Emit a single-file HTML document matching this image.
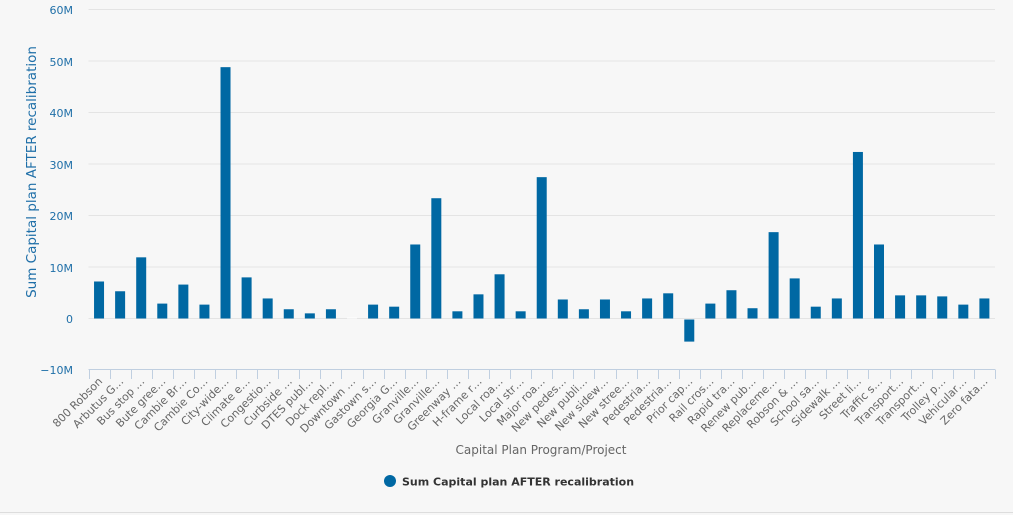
<!DOCTYPE html>
<html><head><meta charset="utf-8"><style>
html,body{margin:0;padding:0;background:#f7f7f7;}
svg{display:block;font-family:"DejaVu Sans","Liberation Sans",sans-serif;}
</style></head><body>
<svg width="1013" height="515" viewBox="0 0 1013 515" xmlns="http://www.w3.org/2000/svg">
<rect width="1013" height="515" fill="#f7f7f7"/>
<g stroke="#e4e4e4" stroke-width="1">
<line x1="88.5" x2="995" y1="9.5" y2="9.5"/>
<line x1="88.5" x2="995" y1="61" y2="61"/>
<line x1="88.5" x2="995" y1="112.5" y2="112.5"/>
<line x1="88.5" x2="995" y1="164" y2="164"/>
<line x1="88.5" x2="995" y1="215.5" y2="215.5"/>
<line x1="88.5" x2="995" y1="267" y2="267"/>
<line x1="88.5" x2="995" y1="318.5" y2="318.5"/>
</g>
<g font-size="11" fill="#1f6fa8" text-anchor="end">
<text x="73" y="14">60M</text>
<text x="73" y="66">50M</text>
<text x="73" y="117">40M</text>
<text x="73" y="169">30M</text>
<text x="73" y="220">20M</text>
<text x="73" y="272">10M</text>
<text x="73" y="323">0</text>
<text x="73" y="374">−10M</text>
</g>
<text transform="translate(36,172) rotate(-90)" font-size="13.5" fill="#1f6fa8" text-anchor="middle">Sum Capital plan AFTER recalibration</text>
<line x1="88.5" x2="995" y1="369.5" y2="369.5" stroke="#c0cfe0"/>
<g id="ticks" stroke="#c0cfe0"></g>
<g id="bars" fill="#0068a3"></g>
<g id="labels" font-size="11" fill="#666"></g>
<text x="541" y="454" font-size="12" fill="#666" text-anchor="middle">Capital Plan Program/Project</text>
<circle cx="390" cy="481" r="6" fill="#0068a3"/>
<text x="402" y="485.5" font-size="11" font-weight="bold" fill="#333">Sum Capital plan AFTER recalibration</text>
<line x1="0" x2="1013" y1="512.5" y2="512.5" stroke="#dddddd"/>
<script>
var v=[7.2,5.3,11.9,2.9,6.6,2.7,48.9,8.0,3.9,1.8,1.0,1.8,0.2,2.7,2.3,14.4,23.4,1.4,4.7,8.6,1.4,27.5,3.7,1.8,3.7,1.4,3.9,4.9,-4.3,2.9,5.5,2.0,16.8,7.8,2.3,3.9,32.4,14.4,4.5,4.5,4.3,2.7,3.9];
var l=["800 Robson","Arbutus G…","Bus stop …","Bute gree…","Cambie Br…","Cambie Co…","City-wide…","Climate e…","Congestio…","Curbside …","DTES publ…","Dock repl…","Downtown …","Gastown s…","Georgia G…","Granville…","Granville…","Greenway …","H-frame r…","Local roa…","Local str…","Major roa…","New pedes…","New publi…","New sidew…","New stree…","Pedestria…","Pedestria…","Prior cap…","Rail cros…","Rapid tra…","Renew pub…","Replaceme…","Robson & …","School sa…","Sidewalk …","Street li…","Traffic s…","Transport…","Transport…","Trolley p…","Vehicular…","Zero fata…"];
var ns="http://www.w3.org/2000/svg",s=21.08,x0=88.5,k=5.14,z=318.5;
var B=document.getElementById("bars"),T=document.getElementById("ticks"),L=document.getElementById("labels");
for(var i=0;i<=43;i++){var t=document.createElementNS(ns,"line");var tx=Math.round(x0+i*s)+0.5;t.setAttribute("x1",tx);t.setAttribute("x2",tx);t.setAttribute("y1",369.5);t.setAttribute("y2",379);T.appendChild(t);}
for(var i=0;i<43;i++){var c=x0+(i+0.5)*s;var h=v[i]*k;var r=document.createElementNS(ns,"rect");r.setAttribute("x",c-5);r.setAttribute("width",10);
if(h>=0){r.setAttribute("y",z-h);r.setAttribute("height",h);}else{r.setAttribute("y",z+1);r.setAttribute("height",-h);}
if(i==12)r.setAttribute("fill","#ffffff");B.appendChild(r);
var tx=document.createElementNS(ns,"text");tx.setAttribute("transform","translate("+(c+4)+",382) rotate(-45)");tx.setAttribute("text-anchor","end");tx.textContent=l[i];L.appendChild(tx);}
</script>
</svg>
</body></html>
